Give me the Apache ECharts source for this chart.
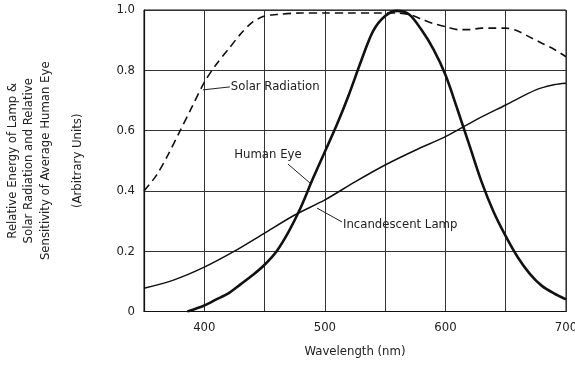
<!DOCTYPE html>
<html>
<head>
<meta charset="utf-8">
<script src="https://cdn.jsdelivr.net/npm/echarts@6/dist/echarts.min.js"></script>
<style>html,body{margin:0;padding:0;background:#fff;}#c{width:575px;height:365px;}</style>
</head>
<body>
<div id="c"></div>
<script>
const solarWl  = [350,360,370,380,390,400,410,420,430,440,450,460,480,500,520,540,560,570,580,590,600,610,620,630,640,650,660,670,680,690,700];
const solarVal = [0.40,0.45,0.52,0.60,0.68,0.76,0.82,0.87,0.92,0.96,0.98,0.985,0.99,0.99,0.99,0.99,0.99,0.985,0.97,0.955,0.945,0.935,0.935,0.94,0.94,0.94,0.93,0.91,0.89,0.87,0.845];

const eyeWl  = [386,400,410,420,430,440,450,460,470,480,490,500,510,520,530,540,550,560,570,580,590,600,610,620,630,640,650,660,670,680,690,700];
const eyeVal = [0,0.02,0.04,0.06,0.09,0.12,0.155,0.20,0.265,0.345,0.44,0.53,0.62,0.72,0.83,0.93,0.98,0.997,0.985,0.935,0.87,0.785,0.67,0.55,0.43,0.33,0.25,0.18,0.125,0.085,0.06,0.04];

const lampWl  = [350,375,400,425,450,475,500,525,550,575,600,625,650,675,690,700];
const lampVal = [0.077,0.105,0.147,0.20,0.26,0.32,0.37,0.43,0.486,0.535,0.58,0.635,0.685,0.735,0.752,0.757];

const xTickLabels = ['400','500','600','700'];
const yTickLabels = ['0','0.2','0.4','0.6','0.8','1.0'];

// annotation anchors in data coordinates
const solarNote = {text:'Solar Radiation', from:[398.9,0.735], to:[421.3,0.745], at:[422,0.745]};
const eyeNote   = {text:'Human Eye', from:[469.4,0.489], to:[487.7,0.426], at:[452.8,0.519]};
const lampNote  = {text:'Incandescent Lamp', from:[493.5,0.343], to:[514.2,0.297], at:[515,0.287]};

const FONT = '"Liberation Sans Narrow","DejaVu Sans Condensed",sans-serif';
const TXT = '#222';

function pairs(xs, ys){ return xs.map((x,i)=>[x, ys[i]]); }
function note(n, pos){
  return {
    markLine: {silent:true, symbol:'none', animation:false,
      lineStyle:{color:'#222', width:1, type:'solid'},
      label:{show:false},
      data:[[{coord:n.from},{coord:n.to}]]},
    markPoint: {silent:true, animation:false, symbol:'circle', symbolSize:0,
      label:{show:true, position:pos, distance:0, formatter:n.text, color:TXT, fontFamily:FONT, fontSize:13},
      data:[{coord:n.at}]}
  };
}

const chart = echarts.init(document.getElementById('c'), null, {renderer:'canvas'});
chart.setOption({
  animation:false,
  backgroundColor:'#fff',
  grid:{left:144, right:9, top:10, bottom:53.5, show:true, borderColor:'#111', borderWidth:1, outerBoundsMode:'none', containLabel:false},
  xAxis:{type:'value', min:350, max:700, interval:50,
    axisLine:{show:true, lineStyle:{color:'#111', width:1.2}},
    axisTick:{show:false},
    splitLine:{show:true, lineStyle:{color:'#333', width:1}},
    axisLabel:{color:TXT, fontFamily:FONT, fontSize:13, margin:10,
      formatter:v=>{const s=String(v); return xTickLabels.includes(s)?s:'';}},
    name:'Wavelength (nm)', nameLocation:'middle', nameGap:34,
    nameTextStyle:{color:TXT, fontFamily:FONT, fontSize:13}},
  yAxis:{type:'value', min:0, max:1, interval:0.2,
    axisLine:{show:true, lineStyle:{color:'#111', width:1.2}},
    axisTick:{show:false},
    splitLine:{show:true, lineStyle:{color:'#333', width:1}},
    axisLabel:{color:TXT, fontFamily:FONT, fontSize:13, margin:9,
      formatter:v=>yTickLabels[Math.round(v/0.2)]},
    name:'Relative Energy of Lamp &\nSolar Radiation and Relative\nSensitivity of Average Human Eye\n\n(Arbitrary Units)',
    nameLocation:'middle', nameGap:58, nameRotate:90,
    nameTextStyle:{color:TXT, fontFamily:FONT, fontSize:13, lineHeight:16.3, align:'center'}},
  series:[
    Object.assign({type:'line', name:'Solar Radiation', data:pairs(solarWl, solarVal), smooth:0.3, showSymbol:false,
      lineStyle:{color:'#111', width:1.6, type:[8,5]}}, note(solarNote,'right')),
    Object.assign({type:'line', name:'Human Eye', data:pairs(eyeWl, eyeVal), smooth:0.3, showSymbol:false,
      lineStyle:{color:'#111', width:2.6}}, note(eyeNote,'inside')),
    Object.assign({type:'line', name:'Incandescent Lamp', data:pairs(lampWl, lampVal), smooth:0.3, showSymbol:false,
      lineStyle:{color:'#111', width:1.5}}, note(lampNote,'right'))
  ]
});
</script>
</body>
</html>
